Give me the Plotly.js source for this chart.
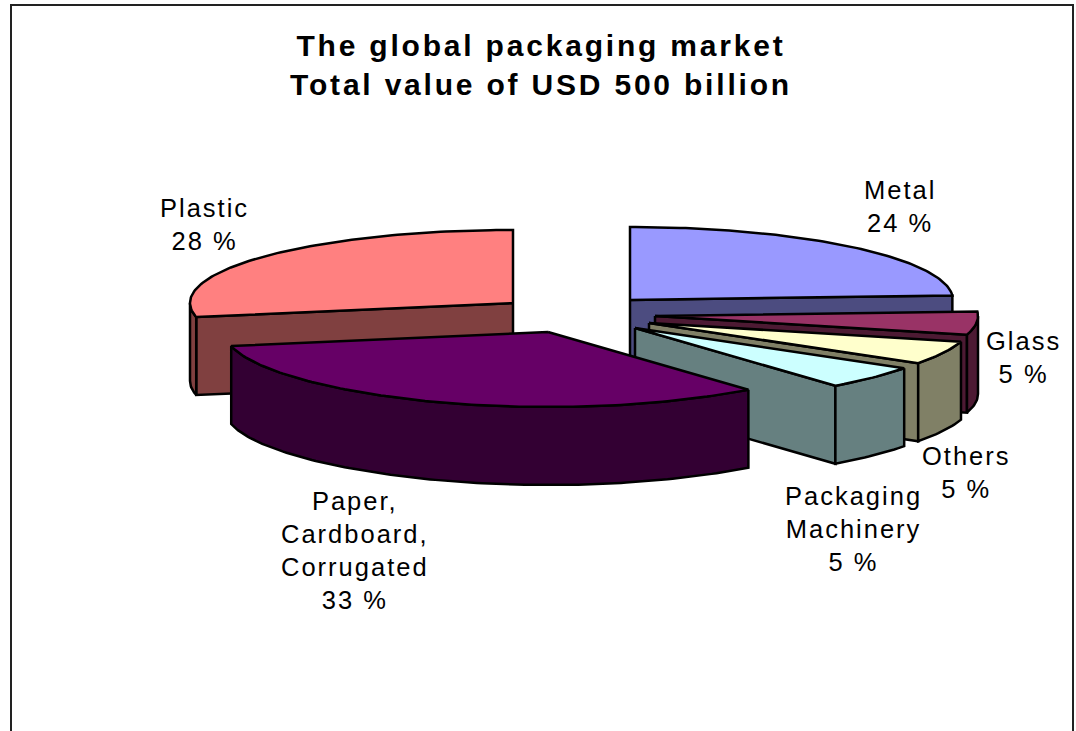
<!DOCTYPE html>
<html>
<head>
<meta charset="utf-8">
<script src="https://cdn.plot.ly/plotly-3.0.1.min.js"></script>
<style>
  html, body { margin: 0; padding: 0; background: #fff; }
  #chart { width: 1076px; height: 731px; }
  #chart svg .gtitle { letter-spacing: 2.8px; }
  #chart svg .annotation-text { letter-spacing: 2px; }
</style>
</head>
<body>
<div id="chart"></div>
<script>
// Share of the global packaging market, clockwise from twelve o'clock.
const categories = ['Metal', 'Glass', 'Others', 'Packaging<br>Machinery', 'Paper,<br>Cardboard,<br>Corrugated', 'Plastic'];
const shares = [24, 5, 5, 5, 33, 28];
const titleLines = ['The global packaging market', 'Total value of USD 500 billion'];

// Slice colours: top face and the darker side wall.
const topColors = ['#9999FF', '#993366', '#FFFFCC', '#CCFFFF', '#660066', '#FF8080'];
const wallColors = ['#4C4C80', '#4D1A33', '#808066', '#668080', '#330033', '#804040'];

// Where each exploded slice has its point, and where its label sits.
const apexX = [630, 655, 649, 635, 548, 513];
const apexY = [300, 316, 323, 328, 332, 303];
const labelX = [900, 1023, 966, 853, 355, 204];
const labelY = [206, 357, 472, 529, 550, 224];

// Tilted-pie geometry in plot units; the far half of the rim is a little flatter.
const RX = 323, RY_FAR = 73, RY_NEAR = 75, DEPTH = 78;
// The near half narrows slightly, as in a perspective view.
const NEAR_NARROWING = 0.045;
// Painter's order, back to front.
const drawOrder = [0, 5, 1, 2, 3, 4];

const total = shares.reduce((a, b) => a + b, 0);
const spans = [];
shares.reduce((start, v, i) => {
  const end = start + v / total * 360;
  spans[i] = [start, end];
  return end;
}, 0);

const rim = (cx, cy, deg) => {
  const t = deg * Math.PI / 180;
  const c = Math.cos(t);
  const rx = c < 0 ? RX * (1 - NEAR_NARROWING * c * c) : RX;
  const ry = c < 0 ? RY_NEAR : RY_FAR;
  return [cx + rx * Math.sin(t), cy - ry * c];
};

function arc(cx, cy, a, b) {
  const n = Math.max(2, Math.ceil(Math.abs(b - a)));
  const pts = [];
  for (let k = 0; k <= n; k++) pts.push(rim(cx, cy, a + (b - a) * k / n));
  return pts;
}

function polygon(pts, fill, name) {
  const closed = pts.concat([pts[0]]);
  return {
    type: 'scatter', mode: 'lines', fill: 'toself',
    x: closed.map(p => p[0]), y: closed.map(p => p[1]),
    fillcolor: fill, line: { color: '#000', width: 2.5 },
    hoverinfo: 'text', text: name, showlegend: false
  };
}

const down = p => [p[0], p[1] + DEPTH];

const traces = [];
drawOrder.forEach(i => {
  const [a, b] = spans[i];
  const cx = apexX[i], cy = apexY[i];
  const name = categories[i].replace(/<br>/g, ' ') + ': ' + shares[i] + ' %';
  const apex = [cx, cy];

  // Cut faces that turn towards the viewer.
  if (b > 0 && b < 180) {
    const tip = rim(cx, cy, b);
    traces.push(polygon([apex, tip, down(tip), down(apex)], wallColors[i], name));
  }
  if (a > 180 && a < 360) {
    const tip = rim(cx, cy, a);
    traces.push(polygon([apex, tip, down(tip), down(apex)], wallColors[i], name));
  }
  // Outer wall on the near half of the rim.
  const from = Math.max(a, 90), to = Math.min(b, 270);
  if (to > from) {
    const edge = arc(cx, cy, from, to);
    traces.push(polygon(edge.concat(edge.slice().reverse().map(down)), wallColors[i], name));
  }
  // Top face.
  traces.push(polygon([apex].concat(arc(cx, cy, a, b)), topColors[i], name));
});

const labels = categories.map((c, i) => ({
  x: labelX[i], y: labelY[i], xref: 'x', yref: 'y',
  text: c + '<br>' + shares[i] + ' %',
  showarrow: false, xanchor: 'center', yanchor: 'middle', align: 'center',
  font: { family: 'Liberation Sans, Arial, sans-serif', size: 25.5, color: '#000' }
}));

const layout = {
  width: 1076, height: 731,
  margin: { l: 0, r: 0, t: 0, b: 0 },
  paper_bgcolor: '#fff', plot_bgcolor: '#fff',
  showlegend: false,
  title: {
    text: '<b>' + titleLines.join('<br>') + '</b>',
    x: 541 / 1076, xanchor: 'center', xref: 'paper',
    y: 1 - 56 / 731, yanchor: 'middle', yref: 'container',
    font: { family: 'Liberation Sans, Arial, sans-serif', size: 30, color: '#000' }
  },
  xaxis: { range: [0, 1076], visible: false, fixedrange: true },
  yaxis: { range: [731, 0], visible: false, fixedrange: true },
  annotations: labels,
  shapes: [{
    type: 'rect', xref: 'x', yref: 'y', x0: 11, y0: 5, x1: 1073, y1: 760,
    line: { color: '#222', width: 2 }, fillcolor: 'rgba(0,0,0,0)', layer: 'below'
  }]
};

Plotly.newPlot('chart', traces, layout, { displayModeBar: false, staticPlot: true });
</script>
</body>
</html>
